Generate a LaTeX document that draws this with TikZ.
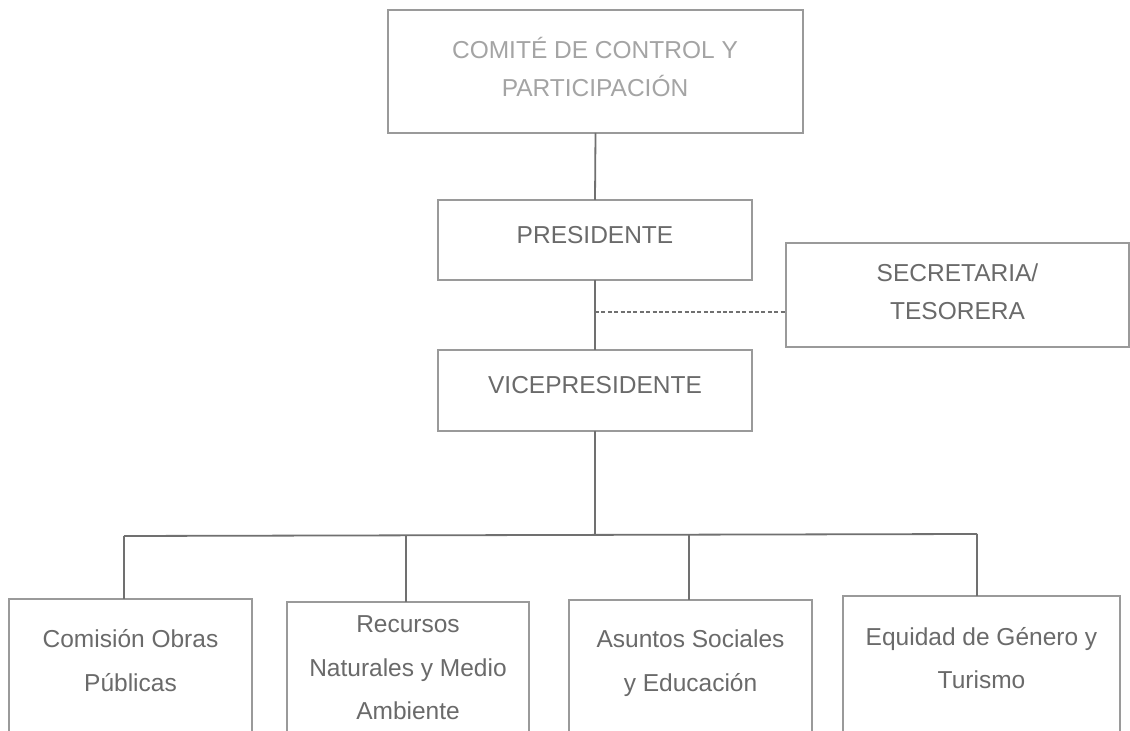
\documentclass[tikz,border=0pt]{standalone}
\usepackage{fontspec}
\setmainfont{Liberation Sans}
\definecolor{boxgray}{HTML}{9A9A9A}
\definecolor{linegray}{HTML}{707070}
\definecolor{txtgray}{HTML}{6A6A6A}
\definecolor{lighttxt}{HTML}{A4A4A4}
\begin{document}
\begin{tikzpicture}[x=0.5pt,y=-0.5pt,
  box/.style={draw=boxgray, line width=0.7pt, inner sep=0pt, outer sep=0pt, fill=white},
  lbl/.style={anchor=base, inner sep=0pt, text=txtgray, font=\fontsize{12.25}{15}\selectfont},
  conn/.style={draw=linegray, line width=0.9pt},
  dashconn/.style={draw=linegray, line width=0.7pt, dash pattern=on 2pt off 1.2pt}]
\fill[white] (0,0) rectangle (1130,731);
\useasboundingbox (0,0) rectangle (1130,731);
\clip (0,0) rectangle (1130,731);

% boxes
\node[box, minimum width=207.5pt, minimum height=61.5pt] (comite) at (595.5,71.5) {};
\node[box, minimum width=157pt, minimum height=40pt] (pres) at (595,240) {};
\node[box, minimum width=157pt, minimum height=40.5pt] (vice) at (595,390.5) {};
\node[box, minimum width=171.5pt, minimum height=52pt] (secr) at (957.5,295) {};
\node[box, minimum width=121.5pt, minimum height=85.5pt] (obras) at (130.5,684.5) {};
\node[box, minimum width=121pt, minimum height=84pt] (recur) at (408,686) {};
\node[box, minimum width=121.5pt, minimum height=85pt] (asunt) at (690.5,685) {};
\node[box, minimum width=138.5pt, minimum height=87pt] (equid) at (981.5,683) {};

% texts
\node[lbl, text=lighttxt] (t1) at (595,59) {COMITÉ DE CONTROL Y};
\node[lbl, text=lighttxt] (t2) at (595,97) {PARTICIPACIÓN};
\node[lbl] (t3) at (595,244) {PRESIDENTE};
\node[lbl] (t4) at (595,394) {VICEPRESIDENTE};
\node[lbl] (t5) at (957.5,282) {SECRETARIA/};
\node[lbl] (t6) at (957.5,320) {TESORERA};
\node[lbl] (t7) at (130.5,648) {Comisión Obras};
\node[lbl] (t8) at (130.5,691) {Públicas};
\node[lbl] (t9) at (408,633) {Recursos};
\node[lbl] (t10) at (408,676) {Naturales y Medio};
\node[lbl] (t11) at (408,719) {Ambiente};
\node[lbl] (t12) at (690.5,648) {Asuntos Sociales};
\node[lbl] (t13) at (690.5,691) {y Educación};
\node[lbl] (t14) at (981.5,646) {Equidad de Género y};
\node[lbl] (t15) at (981.5,689) {Turismo};

% connectors
\coordinate (b1) at (124,536);
\coordinate (b2) at (406,535.5);
\coordinate (b3) at (689,534.5);
\coordinate (b4) at (977,534);
\coordinate (dj) at (595,312);

\draw[conn] (comite.south) -- (pres.north);
\draw[conn] (pres.south) -- (vice.north);
\draw[conn] (vice.south) -- (vice.south |- b1);
\draw[conn] (b1) -- (b4);
\draw[conn] (b1) -- (b1 |- obras.north);
\draw[conn] (b2) -- (b2 |- recur.north);
\draw[conn] (b3) -- (b3 |- asunt.north);
\draw[conn] (b4) -- (b4 |- equid.north);
\draw[dashconn] (dj) -- (dj -| secr.west);
\end{tikzpicture}
\end{document}
